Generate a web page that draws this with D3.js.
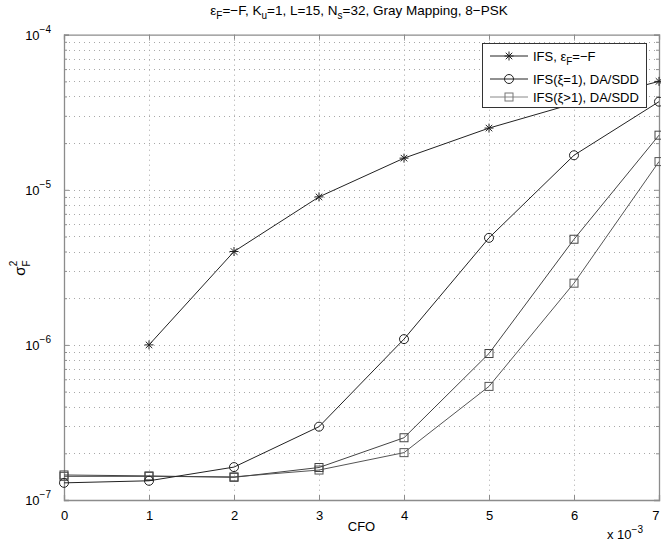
<!DOCTYPE html>
<html>
<head>
<meta charset="utf-8">
<script src="https://cdn.jsdelivr.net/npm/d3@7"></script>
<style>
  html, body { margin: 0; padding: 0; background: #fff; }
  svg { display: block; font-family: "Liberation Sans", Arial, sans-serif; }
</style>
</head>
<body>
<svg id="chart" width="661" height="542"></svg>
<script>
// CFO values (×10^-3)
const cfo = [0, 1, 2, 3, 4, 5, 6, 7];
const cfoIFS = [1, 2, 3, 4, 5, 6, 7];

// σ_F^2 for each curve
const ifsValues = [1.0e-6, 4.0e-6, 9.0e-6, 1.6e-5, 2.5e-5, 3.6e-5, 5.0e-5];
const ifsXi1Values = [1.29e-7, 1.33e-7, 1.63e-7, 2.97e-7, 1.09e-6, 4.9e-6, 1.67e-5, 3.7e-5];
const ifsXiGt1Values = [1.45e-7, 1.43e-7, 1.40e-7, 1.62e-7, 2.52e-7, 8.8e-7, 4.8e-6, 2.25e-5];
const ifsXiGt1bValues = [1.42e-7, 1.42e-7, 1.41e-7, 1.56e-7, 2.02e-7, 5.4e-7, 2.5e-6, 1.52e-5];

const xTicks = [0, 1, 2, 3, 4, 5, 6, 7];
const yDecades = [-7, -6, -5, -4];
const legendLabels = ["IFS, ε_F=−F", "IFS(ξ=1), DA/SDD", "IFS(ξ>1), DA/SDD"];

const svg = d3.select("#chart");
const L = 64, R = 659, T = 34.7, B = 500;

const x = d3.scaleLinear().domain([0, 7]).range([L, R]);
const y = d3.scaleLog().domain([1e-7, 1e-4]).range([B, T]);

// minor log values
const minorVals = [];
for (let e = -7; e < -4; e++) for (let m = 2; m <= 9; m++) minorVals.push(m * Math.pow(10, e));
const majorVals = yDecades.map(e => Math.pow(10, e));

// dotted grid
const grid = svg.append("g").attr("stroke", "#a8a8a8").attr("stroke-width", 1).attr("stroke-dasharray", "1,4").attr("fill", "none");
xTicks.slice(1, -1).forEach(v => {
  const px = Math.round(x(v)) + 0.5;
  grid.append("line").attr("x1", px).attr("x2", px).attr("y1", T).attr("y2", B);
});
minorVals.concat(majorVals.slice(1, -1)).forEach(v => {
  const py = Math.round(y(v)) + 0.5;
  grid.append("line").attr("x1", L).attr("x2", R).attr("y1", py).attr("y2", py);
});

// axes (ticks inward on all four sides)
const axCol = "#8c8c8c";
const xAxisB = d3.axisBottom(x).tickValues(xTicks).tickSize(-5).tickPadding(11).tickFormat(d3.format("d"));
const xAxisT = d3.axisTop(x).tickValues(xTicks).tickSize(-5).tickFormat("");
const gB = svg.append("g").attr("transform", `translate(0,${B})`).call(xAxisB);
svg.append("g").attr("transform", `translate(0,${T})`).call(xAxisT);
const yAxisL = d3.axisLeft(y).tickValues(majorVals).tickSize(-5).tickFormat("");
const yAxisR = d3.axisRight(y).tickValues(majorVals).tickSize(-5).tickFormat("");
const yMinorL = d3.axisLeft(y).tickValues(minorVals).tickSize(-3).tickFormat("");
const yMinorR = d3.axisRight(y).tickValues(minorVals).tickSize(-3).tickFormat("");
svg.append("g").attr("transform", `translate(${L},0)`).call(yAxisL);
svg.append("g").attr("transform", `translate(${R},0)`).call(yAxisR);
svg.append("g").attr("transform", `translate(${L},0)`).call(yMinorL).select(".domain").remove();
svg.append("g").attr("transform", `translate(${R},0)`).call(yMinorR).select(".domain").remove();
svg.selectAll(".domain").attr("stroke", axCol).attr("stroke-width", 1.3);
svg.selectAll(".tick line").attr("stroke", axCol);
gB.selectAll(".tick text").attr("font-size", 13).attr("fill", "#000").attr("font-family", "Liberation Sans, Arial, sans-serif");
gB.selectAll(".tick text").filter(d => d === 7).attr("text-anchor", "end").attr("dx", 0);

// y tick labels 10^n
yDecades.forEach(e => {
  const t = svg.append("text").attr("x", 51).attr("y", y(Math.pow(10, e)) + 5)
    .attr("text-anchor", "end").attr("font-size", 13).attr("fill", "#000");
  t.append("tspan").text("10");
  t.append("tspan").attr("dy", -7).attr("font-size", 10).text("−" + (-e));
});

// x multiplier
const mult = svg.append("text").attr("x", 607).attr("y", 539).attr("font-size", 13).attr("fill", "#000");
mult.append("tspan").text("x 10");
mult.append("tspan").attr("dy", -6).attr("font-size", 10).text("−3");

// axis labels
svg.append("text").attr("x", (L + R) / 2).attr("y", 531).attr("text-anchor", "middle")
  .attr("font-size", 13).attr("fill", "#000").text("CFO");
const yl = svg.append("text").attr("transform", "translate(25,268) rotate(-90)")
  .attr("text-anchor", "middle").attr("font-size", 15).attr("fill", "#000");
yl.append("tspan").text("σ");
yl.append("tspan").attr("dy", 5).attr("font-size", 10).text("F");
yl.append("tspan").attr("dx", -6).attr("dy", -13).attr("font-size", 10).text("2");

// title
const title = svg.append("text").attr("x", 359).attr("y", 15).attr("text-anchor", "middle")
  .attr("font-size", 13.5).attr("fill", "#000");
title.append("tspan").text("ε");
title.append("tspan").attr("dy", 4).attr("font-size", 10).text("F");
title.append("tspan").attr("dy", -4).text("=−F, K");
title.append("tspan").attr("dy", 4).attr("font-size", 10).text("u");
title.append("tspan").attr("dy", -4).text("=1, L=15, N");
title.append("tspan").attr("dy", 4).attr("font-size", 10).text("s");
title.append("tspan").attr("dy", -4).text("=32, Gray Mapping, 8−PSK");

// marker shapes
function drawStar(g, cx, cy, col) {
  const r = 4.5, d = r * 0.72;
  g.append("path").attr("d",
    `M${cx - r},${cy}L${cx + r},${cy}M${cx},${cy - r}L${cx},${cy + r}` +
    `M${cx - d},${cy - d}L${cx + d},${cy + d}M${cx - d},${cy + d}L${cx + d},${cy - d}`)
    .attr("stroke", col).attr("stroke-width", 1).attr("fill", "none");
}
function drawCircle(g, cx, cy, col) {
  g.append("circle").attr("cx", cx).attr("cy", cy).attr("r", 4.5)
    .attr("stroke", col).attr("stroke-width", 1).attr("fill", "none");
}
function drawSquare(g, cx, cy, col) {
  g.append("rect").attr("x", cx - 4).attr("y", cy - 4).attr("width", 8).attr("height", 8)
    .attr("stroke", col).attr("stroke-width", 1).attr("fill", "none");
}

const line = d3.line().x(d => x(d[0])).y(d => y(d[1]));
const series = [
  { xs: cfo, ys: ifsXiGt1bValues, col: "#555", marker: drawSquare },
  { xs: cfo, ys: ifsXiGt1Values, col: "#444", marker: drawSquare },
  { xs: cfo, ys: ifsXi1Values, col: "#222", marker: drawCircle },
  { xs: cfoIFS, ys: ifsValues, col: "#222", marker: drawStar }
];
const plot = svg.append("g");
series.forEach(s => {
  const pts = s.xs.map((v, i) => [v, s.ys[i]]);
  plot.append("path").datum(pts).attr("d", line).attr("fill", "none")
    .attr("stroke", s.col).attr("stroke-width", 1);
  const mg = plot.append("g");
  pts.forEach(p => s.marker(mg, x(p[0]), y(p[1]), s.col));
});

// legend
const lg = svg.append("g");
lg.append("rect").attr("x", 482.5).attr("y", 43.5).attr("width", 164).attr("height", 64)
  .attr("fill", "#fff").attr("stroke", "#333").attr("stroke-width", 1);
const rowsY = [56, 79, 97];
const legendMarkers = [drawStar, drawCircle, drawSquare];
const legendCols = ["#222", "#222", "#888"];
legendLabels.forEach((lab, i) => {
  const ry = rowsY[i];
  lg.append("line").attr("x1", 490).attr("x2", 528).attr("y1", ry).attr("y2", ry)
    .attr("stroke", legendCols[i]).attr("stroke-width", 1);
  legendMarkers[i](lg, 509, ry, i === 2 ? "#777" : "#222");
  const t = lg.append("text").attr("x", 533).attr("y", ry + 4.5).attr("font-size", 13).attr("fill", "#000");
  if (i === 0) {
    t.append("tspan").text("IFS, ε");
    t.append("tspan").attr("dy", 4).attr("font-size", 10).text("F");
    t.append("tspan").attr("dy", -4).text("=−F");
  } else {
    t.text(lab);
  }
});
</script>
</body>
</html>
